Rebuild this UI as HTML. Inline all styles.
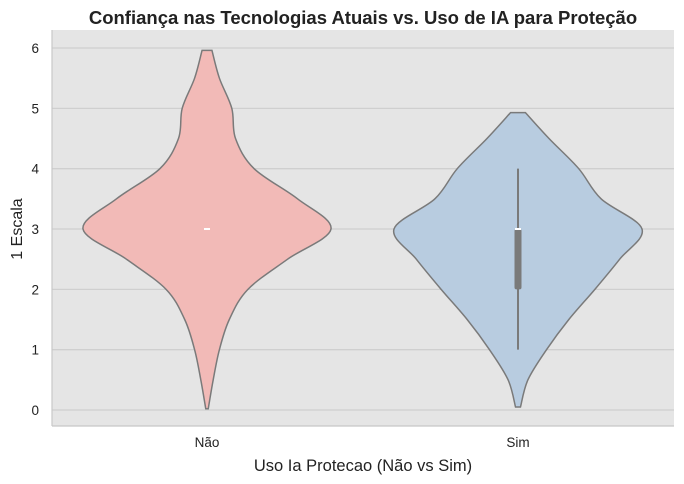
<!DOCTYPE html>
<html><head><meta charset="utf-8"><style>
html,body{margin:0;padding:0;background:#fff;}
svg{display:block;font-family:"Liberation Sans",sans-serif;}
</style></head><body>
<svg id="chart" width="684" height="484" viewBox="0 0 684 484">
<rect x="52" y="30" width="622" height="396" fill="#e5e5e5"/>
<g id="grid"></g>
<g id="violins"></g>
<line x1="52" y1="30" x2="52" y2="426" stroke="#c8c8c8" stroke-width="1.2"/>
<line x1="52" y1="426" x2="674" y2="426" stroke="#c8c8c8" stroke-width="1.2"/>
<g id="ticks"></g>
<text x="363" y="24" text-anchor="middle" font-size="18.5" font-weight="bold" fill="#222">Confiança nas Tecnologias Atuais vs. Uso de IA para Proteção</text>
<text x="363" y="471" text-anchor="middle" font-size="16.5" fill="#222">Uso Ia Protecao (Não vs Sim)</text>
<text transform="translate(22,229) rotate(-90)" text-anchor="middle" font-size="16" fill="#222">1 Escala</text>
</svg>
<script>
const categories = ["Não", "Sim"];
const yTicks = [0,1,2,3,4,5,6];
const naoY = [0.02,0.5,1,1.5,2,2.5,3,3.5,4,4.5,5,5.5,5.96];
const naoDensity = [0.01,0.05,0.1,0.18,0.33,0.65,1,0.73,0.38,0.23,0.2,0.1,0.04];
const simY = [0.05,0.5,1,1.5,2,2.5,3,3.5,4,4.5,4.93];
const simDensity = [0.02,0.08,0.23,0.41,0.62,0.82,1,0.67,0.49,0.25,0.06];
const simBox = [1,2,3,3,4]; // whisker low, q1, median, q3, whisker high
const naoBox = [3,3,3,3,3];
const fills = ["#f2bab7","#b8cce0"];

const svg = document.getElementById('chart');
const NS = "http://www.w3.org/2000/svg";
const yScale = v => 410 - v*60.33;
const xScale = i => 207 + i*311;
const maxHalf = 124;

function mk(tag, attrs, parent){const e=document.createElementNS(NS,tag);for(const k in attrs)e.setAttribute(k,attrs[k]);parent.appendChild(e);return e;}

const grid=document.getElementById('grid'), ticks=document.getElementById('ticks');
yTicks.forEach(t=>{
  const g=mk('line',{x1:52,x2:674,y1:yScale(t),y2:yScale(t),stroke:'#cfcfcf','stroke-width':1.3},grid);
  
  
  const l=mk('text',{x:39,y:yScale(t)+5,'text-anchor':'end','font-size':13.5,fill:'#222'},ticks);
  l.textContent=t;
  
  
});
categories.forEach((c,i)=>{
  const l=mk('text',{x:xScale(i),y:447,'text-anchor':'middle','font-size':13.5,fill:'#222'},ticks);
  l.textContent=c;
  
  
});

function smoothPath(pts){
  let d=`M${pts[0][0]},${pts[0][1]}`;
  for(let i=0;i<pts.length-1;i++){
    const p0=pts[Math.max(0,i-1)],p1=pts[i],p2=pts[i+1],p3=pts[Math.min(pts.length-1,i+2)];
    const c1=[p1[0]+(p2[0]-p0[0])/6,p1[1]+(p2[1]-p0[1])/6];
    const c2=[p2[0]-(p3[0]-p1[0])/6,p2[1]-(p3[1]-p1[1])/6];
    d+=` C${c1[0]},${c1[1]} ${c2[0]},${c2[1]} ${p2[0]},${p2[1]}`;
  }
  return d;
}
const vg=document.getElementById('violins');
function violin(i,ys,ds,box){
  const cx=xScale(i);
  const right=ys.map((y,k)=>[cx+ds[k]*maxHalf,yScale(y)]);
  const left=ys.map((y,k)=>[cx-ds[k]*maxHalf,yScale(y)]).reverse();
  let d=smoothPath(right);
  d+=` L${left[0][0]},${left[0][1]}`+smoothPath(left).replace(/^M[^C]*/,' ')+' Z';
  const p=mk('path',{d:d,fill:fills[i],stroke:'#7a7a7a','stroke-width':1.5},vg);
  
  
  if(box[0]!==box[4]){
    const w=mk('line',{x1:cx,x2:cx,y1:yScale(box[0]),y2:yScale(box[4]),stroke:'#7a7a7a','stroke-width':2},vg);
    
    
  }
  if(box[1]!==box[3]){
    const b=mk('rect',{x:cx-3.5,y:yScale(box[3]),width:7,height:yScale(box[1])-yScale(box[3]),rx:2,fill:'#7a7a7a'},vg);
    
    
  }
  const m=mk('line',{x1:cx-3,x2:cx+3,y1:yScale(box[2]),y2:yScale(box[2]),stroke:'#fff','stroke-width':2},vg);
  
  
}
violin(0,naoY,naoDensity,naoBox);
violin(1,simY,simDensity,simBox);
</script>
</body></html>
